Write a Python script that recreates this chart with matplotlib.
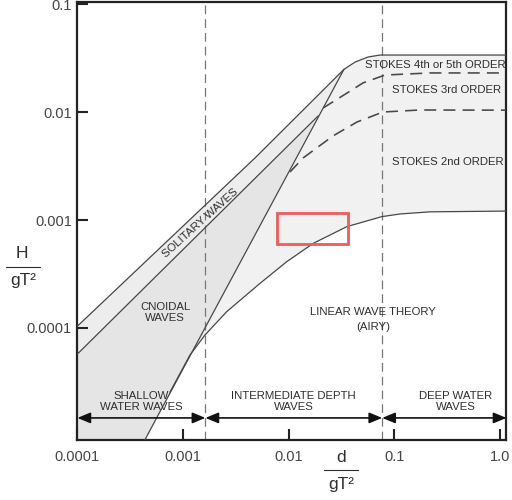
import numpy as np
import matplotlib
matplotlib.use("Agg")
import matplotlib.pyplot as plt
from matplotlib.lines import Line2D
from matplotlib.patches import Rectangle

plt.rcParams['font.family'] = ['Liberation Sans', 'DejaVu Sans']

# Curves: x = d/gT^2, y = H/gT^2
breaking_x = np.array([1e-4, 4.91e-3, 3.34e-2, 4.26e-2, 5.65e-2, 7.35e-2, 1.2])
breaking_y = np.array([1.04e-4, 3.83e-3, 2.48e-2, 2.90e-2, 3.23e-2, 3.37e-2, 3.37e-2])

solitary_x = np.array([1e-4, 1.9e-2])
solitary_y = np.array([5.74e-5, 9.18e-3])

ursell_x = np.array([4.3e-4, 3.34e-2])
ursell_y = np.array([9.0e-6, 2.48e-2])

stokes3_x = np.array([0.0103, 0.0137, 0.0263, 0.0444, 0.0783, 0.175, 1.2])
stokes3_y = np.array([0.00278, 0.00375, 0.0060, 0.00808, 0.0100, 0.01044, 0.0104])

stokes5_x = np.array([0.0212, 0.0358, 0.0507, 0.0818, 0.218, 1.2])
stokes5_y = np.array([0.01089, 0.0150, 0.0186, 0.0220, 0.0230, 0.0230])

linear_x = np.array([7.53e-4, 1.164e-3, 1.615e-3, 2.59e-3, 5.36e-3, 9.59e-3,
                     1.713e-2, 3.55e-2, 7.62e-2, 0.1135, 0.218, 1.2])
linear_y = np.array([2.55e-5, 5.62e-5, 8.61e-5, 1.415e-4, 2.59e-4, 4.11e-4,
                     6.08e-4, 8.67e-4, 1.074e-3, 1.137e-3, 1.19e-3, 1.21e-3])

# depth limits: shallow / intermediate / deep
depth_limits = [0.00163, 0.077]

tick_vals_x = [1e-4, 1e-3, 1e-2, 1e-1, 1.0]
tick_labels_x = ['0.0001', '0.001', '0.01', '0.1', '1.0']
tick_vals_y = [1e-4, 1e-3, 1e-2, 1e-1]
tick_labels_y = ['0.0001', '0.001', '0.01', '0.1']

fig = plt.figure(figsize=(5.12, 5.0), dpi=100)
ax = fig.add_axes([0.1512, 0.12, 0.838, 0.876])
ax.set_xscale('log')
ax.set_yscale('log')
xmin, xmax = 1e-4, 1.157
ymin, ymax = 9.18e-6, 0.1044

# shaded regions
cn_x = [xmin, ursell_x[0], solitary_x[1], solitary_x[0]]
cn_y = [ursell_y[0], ursell_y[0], solitary_y[1], solitary_y[0]]
ax.fill(cn_x, cn_y, color='#e5e5e5', lw=0, zorder=1)

sol_x = np.concatenate([breaking_x[:3], solitary_x[::-1]])
sol_y = np.concatenate([breaking_y[:3], solitary_y[::-1]])
ax.fill(sol_x, sol_y, color='#ededed', lw=0, zorder=1)

st_x = np.concatenate([breaking_x[2:], linear_x[::-1]])
st_y = np.concatenate([breaking_y[2:], linear_y[::-1]])
ax.fill(st_x, st_y, color='#f1f1f1', lw=0, zorder=1)

# boundary curves
lc = '#474747'
ax.plot(breaking_x, breaking_y, color=lc, lw=0.9, zorder=3)
ax.plot(solitary_x, solitary_y, color=lc, lw=0.9, zorder=3)
ax.plot(ursell_x, ursell_y, color=lc, lw=0.9, zorder=3)
ax.plot(linear_x, linear_y, color=lc, lw=0.9, zorder=3)
ax.plot(stokes3_x, stokes3_y, color=lc, lw=1.15, dashes=(7.5, 4.5), zorder=3)
ax.plot(stokes5_x, stokes5_y, color=lc, lw=1.15, dashes=(7.5, 4.5), zorder=3)

for xv in depth_limits:
    ax.axvline(xv, color='#777777', lw=0.9, dashes=(7, 4), zorder=2)

# depth arrows
y_arr = 1.47e-5
edges = [xmin] + depth_limits + [xmax]
for a, b in zip(edges[:-1], edges[1:]):
    ax.annotate('', xy=(b, y_arr), xytext=(a, y_arr),
                arrowprops=dict(arrowstyle='<|-|>,head_length=0.65,head_width=0.27',
                                color='#111111', lw=1.2, mutation_scale=12,
                                shrinkA=0, shrinkB=0), zorder=4)

tc = '#2e2e2e'
fs = 8.2
ax.text(4.0e-4, 2.08e-5, 'SHALLOW\nWATER WAVES', ha='center', va='center',
        fontsize=fs, color=tc, linespacing=1.1, zorder=5)
ax.text(0.0112, 2.08e-5, 'INTERMEDIATE DEPTH\nWAVES', ha='center', va='center',
        fontsize=fs, color=tc, linespacing=1.1, zorder=5)
ax.text(0.38, 2.08e-5, 'DEEP WATER\nWAVES', ha='center', va='center',
        fontsize=fs, color=tc, linespacing=1.1, zorder=5)
ax.text(6.76e-4, 1.38e-4, 'CNOIDAL\nWAVES', ha='center', va='center',
        fontsize=fs, color=tc, linespacing=1.15, zorder=5)
ax.text(0.0629, 1.2e-4, 'LINEAR WAVE THEORY\n(AIRY)', ha='center', va='center',
        fontsize=fs, color=tc, linespacing=1.55, zorder=5)
ax.text(1.45e-3, 9.3e-4, 'SOLITARY WAVES', ha='center', va='center',
        fontsize=fs, color=tc, rotation=42, zorder=5)
ax.text(0.243, 0.0272, 'STOKES 4th or 5th ORDER', ha='center', va='center',
        fontsize=fs, color=tc, zorder=5)
ax.text(0.316, 0.016, 'STOKES 3rd ORDER', ha='center', va='center',
        fontsize=fs, color=tc, zorder=5)
ax.text(0.323, 0.00344, 'STOKES 2nd ORDER', ha='center', va='center',
        fontsize=fs, color=tc, zorder=5)

# red highlight box
ax.add_patch(Rectangle((0.00781, 0.000605), 0.0369 - 0.00781, 0.001173 - 0.000605,
                       fill=False, edgecolor='#f25a5a', lw=2.0, zorder=6))

ax.set_xlim(xmin, xmax)
ax.set_ylim(ymin, ymax)
ax.set_xticks(tick_vals_x)
ax.set_xticklabels(tick_labels_x)
ax.set_yticks(tick_vals_y)
ax.set_yticklabels(tick_labels_y)
ax.minorticks_off()
ax.tick_params(axis='both', direction='in', length=8, width=1.5, color='#222222',
               labelsize=10.5, labelcolor='#444444')
ax.tick_params(axis='x', pad=7)
ax.tick_params(axis='y', pad=4)
for s in ax.spines.values():
    s.set_linewidth(1.6)
    s.set_color('#222222')

# fraction-style axis labels
fig.text(0.043, 0.492, 'H', ha='center', va='center', fontsize=12.5, color=tc)
fig.add_artist(Line2D([0.012, 0.078], [0.466, 0.466], transform=fig.transFigure,
                      color=tc, lw=0.8))
fig.text(0.045, 0.438, 'gT²', ha='center', va='center', fontsize=12.5, color=tc)

fig.text(0.666, 0.084, 'd', ha='center', va='center', fontsize=12.5, color=tc)
fig.add_artist(Line2D([0.633, 0.699], [0.060, 0.060], transform=fig.transFigure,
                      color=tc, lw=0.8))
fig.text(0.666, 0.030, 'gT²', ha='center', va='center', fontsize=12.5, color=tc)

fig.savefig('out.png', dpi=100)
